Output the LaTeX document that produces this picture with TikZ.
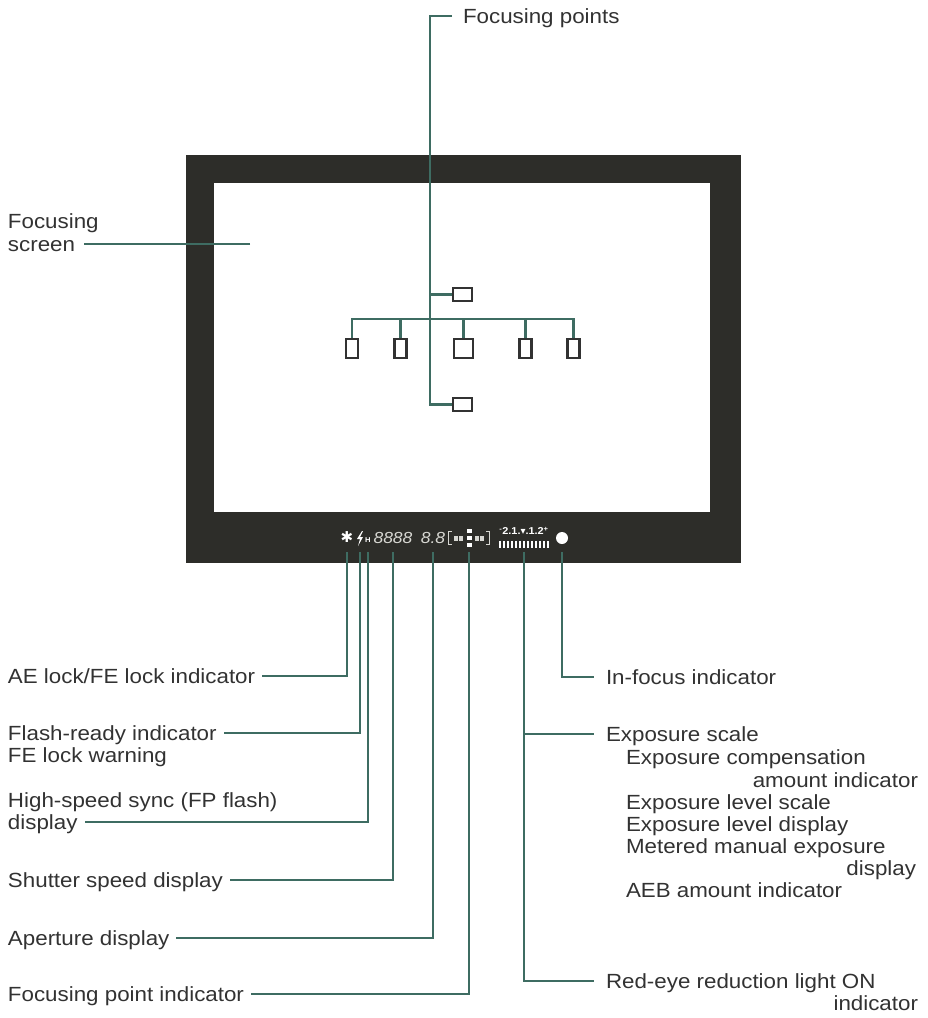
\documentclass[tikz,border=0pt]{standalone}
\usepackage{fontspec}
\setmainfont{Liberation Sans}[FakeStretch=1.09]
\newfontfamily\symfont{DejaVu Sans}
\usetikzlibrary{positioning}

\definecolor{leadcol}{RGB}{62,108,98}
\definecolor{framecol}{RGB}{45,45,41}
\definecolor{textcol}{RGB}{50,50,50}
\definecolor{segcol}{RGB}{215,215,210}

\tikzset{
  lead/.style={draw=leadcol, line width=2.6pt},
  toleft/.style={lead, shorten >=7pt},
  toright/.style={lead, shorten >=12pt},
  lbl/.style={inner sep=0pt, outer sep=0pt, text=textcol, font=\fontsize{20.5}{22}\selectfont,
    text height=14.7pt, text depth=0pt, anchor=west},
  lblr/.style={lbl, anchor=east},
  fpbox/.style={draw=textcol, line width=2.2pt, fill=white, inner sep=0pt},
  ind/.style={inner sep=0pt, text=white}
}

\begin{document}
\begin{tikzpicture}[x=1pt, y=-1pt]
    \useasboundingbox (0,0) rectangle (928,1018);

    % viewfinder frame
    \fill[framecol] (186,155) rectangle (741,563);
    \fill[white] (214,183) rectangle (710,512);

    % indicators in the bottom strip
    \coordinate (base) at (0,552);
    \node[ind, font=\symfont\fontsize{15}{15}\selectfont] (aelock) at (347,537) {✱};
    \node[ind, minimum width=6pt, minimum height=14pt] (flash) at (360,538) {};
    \fill[white] (362,531) -- (357,539) -- (360,539) -- (358,546) -- (363,537) -- (360,537) -- (363,531) -- cycle;
    \node[ind, font=\fontsize{7}{7}\selectfont\bfseries] (hsync) at (368,540) {H};
    \node[ind, text=segcol, font=\fontsize{16}{16}\selectfont\itshape] (tv) at (393,538) {8888};
    \node[ind, text=segcol, font=\fontsize{16}{16}\selectfont\itshape] (av) at (433,538) {8.8};
    \node[inner sep=0pt, minimum width=40pt, minimum height=12pt] (fpind) at (469,538) {};
    \draw[segcol, line width=1.3pt] ([xshift=3pt]fpind.north west) -| (fpind.south west) -- ++(3pt,0);
    \draw[segcol, line width=1.3pt] ([xshift=-3pt]fpind.north east) -| (fpind.south east) -- ++(-3pt,0);
    \foreach \x in {-13,-8,8,13}
      \fill[segcol] ([xshift=\x pt]fpind.center) +(-2pt,-2.5pt) rectangle +(2pt,2.5pt);
    \foreach \y in {-7,0,7}
      \fill[white] ([yshift=\y pt]fpind.center) +(-2.5pt,-2pt) rectangle +(2.5pt,2pt);
    \node[ind, font=\fontsize{10}{10}\selectfont\bfseries] (scale) at (524,531)
      {\textsuperscript{-}2.1.{\symfont ▾}.1.2\textsuperscript{+}};
    \foreach \i in {0,...,12}
      \fill[white] ({498.5+4*\i},541) rectangle ++(2.2,7);
    \node[ind, circle, fill=white, minimum size=12pt] (infocus) at (562,538) {};

    % focusing points
    \coordinate (trunk) at (430,319);
    \node[fpbox, minimum width=19pt, minimum height=13pt] (fptop) at (462.5,294.5) {};
    \node[fpbox, minimum width=19pt, minimum height=13pt] (fpbot) at (462.5,404.5) {};
    \node[fpbox, minimum width=12pt, minimum height=19pt] (fpl2) at (352,348.5) {};
    \node[fpbox, minimum width=12pt, minimum height=19pt] (fpl1) at (400.5,348.5) {};
    \node[fpbox, minimum width=19pt, minimum height=19pt] (fpc) at (463.5,348.5) {};
    \node[fpbox, minimum width=12pt, minimum height=19pt] (fpr1) at (525.5,348.5) {};
    \node[fpbox, minimum width=12pt, minimum height=19pt] (fpr2) at (573.5,348.5) {};

    \node[lbl] (fplabel) at (463,16) {Focusing points};
    \draw[lead, shorten <=11pt] (fplabel) -| (trunk) |- (fpbot);
    \draw[lead] (trunk |- fptop) -- (fptop);
    \draw[lead] (fpl2) |- (trunk) -| (fpr2);
    \foreach \b in {fpl1,fpc,fpr1}
      \draw[lead] (\b) -- (\b |- trunk);

    % focusing screen
    \node[lbl] (scra) at (8,221) {Focusing};
    \node[lbl] (scrb) at (8,244) {screen};
    \coordinate (scr) at (250,244);
    \draw[lead, shorten >=9pt] (scr) -- (scrb);

    % labels on the left
    \node[lbl] (aelabel) at (8,676) {AE lock/FE lock indicator};
    \node[lbl] (flashlabel) at (8,733) {Flash-ready indicator};
    \node[lbl, below right=7.3pt and 0pt of flashlabel.south west] (felabel) {FE lock warning};
    \node[lbl] (hslabel) at (8,800) {High-speed sync (FP flash)};
    \node[lbl, below right=7.3pt and 0pt of hslabel.south west] (hslabelb) {display};
    \node[lbl] (tvlabel) at (8,880) {Shutter speed display};
    \node[lbl] (avlabel) at (8,938) {Aperture display};
    \node[lbl] (fpilabel) at (8,994) {Focusing point indicator};

    \draw[toleft] (aelock |- base) |- (aelabel);
    \draw[toleft] (flash |- base) |- (flashlabel);
    \draw[toleft] (hsync |- base) |- (hslabelb);
    \draw[toleft] (tv |- base) |- (tvlabel);
    \draw[toleft] (av |- base) |- (avlabel);
    \draw[toleft] (fpind |- base) |- (fpilabel);

    % labels on the right
    \node[lbl] (iflabel) at (606,677) {In-focus indicator};
    \node[lbl] (explabel) at (606,734) {Exposure scale};
    \node[lbl] (expa) at (626,757) {Exposure compensation};
    \node[lblr] (expb) at (918,780) {amount indicator};
    \node[lbl] (expc) at (626,802) {Exposure level scale};
    \node[lbl, below right=7.3pt and 0pt of expc.south west] (expd) {Exposure level display};
    \node[lbl, below right=7.3pt and 0pt of expd.south west] (expe) {Metered manual exposure};
    \node[lblr] (expf) at (916,868) {display};
    \node[lbl] (expg) at (626,890) {AEB amount indicator};
    \node[lbl] (redlabel) at (606,981) {Red-eye reduction light ON};
    \node[lblr] (redlabelb) at (918,1003) {indicator};

    \draw[toright] (infocus |- base) |- (iflabel);
    \draw[toright] (scale |- base) |- (redlabel);
    \draw[toright] (scale |- explabel) -- (explabel);
\end{tikzpicture}
\end{document}
